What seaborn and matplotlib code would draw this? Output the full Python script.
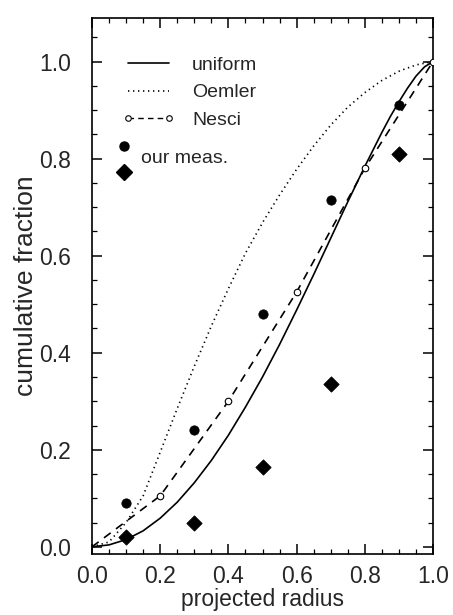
import numpy as np
import pandas as pd
import matplotlib
matplotlib.use("Agg")
import matplotlib.pyplot as plt
from matplotlib.lines import Line2D
from matplotlib.legend_handler import HandlerBase
from matplotlib.ticker import MultipleLocator
import seaborn as sns

# ---- data ----
uni_r = [0.0, 0.05, 0.1, 0.15, 0.2, 0.25, 0.3, 0.35, 0.4, 0.45, 0.5,
         0.55, 0.6, 0.65, 0.7, 0.75, 0.8, 0.85, 0.875, 0.9, 0.925, 0.95, 0.975, 1.0]
uniform = [0.0, 0.004, 0.015, 0.033, 0.059, 0.092, 0.132, 0.178, 0.230, 0.288, 0.350,
           0.417, 0.488, 0.561, 0.636, 0.711, 0.784, 0.854, 0.887, 0.917, 0.945, 0.970, 0.989, 1.0]
oem_r = [0.0, 0.05, 0.1, 0.15, 0.2, 0.25, 0.3, 0.35, 0.4, 0.45, 0.5,
         0.55, 0.6, 0.65, 0.7, 0.75, 0.8, 0.85, 0.9, 0.95, 1.0]
oemler = [0.0, 0.01, 0.05, 0.105, 0.195, 0.285, 0.372, 0.455, 0.532, 0.605, 0.668,
          0.725, 0.778, 0.826, 0.869, 0.906, 0.936, 0.961, 0.980, 0.993, 1.0]
nesci_r = [0.0, 0.2, 0.4, 0.6, 0.8, 1.0]
nesci = [0.0, 0.105, 0.30, 0.525, 0.78, 1.0]
meas_r = [0.1, 0.3, 0.5, 0.7, 0.9]
meas_circ = [0.09, 0.24, 0.48, 0.715, 0.91]
meas_diam = [0.02, 0.05, 0.165, 0.335, 0.81]

sns.set_style("ticks")
plt.rcParams['font.family'] = ['Liberation Sans', 'DejaVu Sans']

fig = plt.figure(figsize=(4.53, 6.15), dpi=100)
ax = fig.add_axes([0.203, 0.099, 0.753, 0.872])

uni = pd.DataFrame({"r": uni_r, "v": uniform})
oem = pd.DataFrame({"r": oem_r, "v": oemler})
nes = pd.DataFrame({"r": nesci_r, "v": nesci})
meas = pd.DataFrame({"r": meas_r, "c": meas_circ, "d": meas_diam})

sns.lineplot(data=uni, x="r", y="v", ax=ax, color="black", lw=1.2,
             linestyle="-", sort=False)
sns.lineplot(data=oem, x="r", y="v", ax=ax, color="black", lw=1.2,
             linestyle=(0, (0.8, 2.2)), sort=False)
sns.lineplot(data=nes, x="r", y="v", ax=ax, color="black", lw=1.2,
             linestyle=(0, (5, 4)), sort=False)
sns.scatterplot(data=nes.iloc[1:], x="r", y="v", ax=ax, marker="o", s=22,
                facecolor="white", edgecolor="black", linewidth=0.8, zorder=4)
sns.scatterplot(data=meas, x="r", y="c", ax=ax, marker="o", s=45,
                color="black", edgecolor="black", zorder=5)
sns.scatterplot(data=meas, x="r", y="d", ax=ax, marker="D", s=60,
                color="black", edgecolor="black", zorder=5)

ax.set_xlim(0, 1.0)
ax.set_ylim(-0.015, 1.09)
ax.xaxis.set_major_locator(MultipleLocator(0.2))
ax.xaxis.set_minor_locator(MultipleLocator(0.05))
ax.yaxis.set_major_locator(MultipleLocator(0.2))
ax.yaxis.set_minor_locator(MultipleLocator(0.05))
ax.set_yticks([0, 0.2, 0.4, 0.6, 0.8, 1.0])
ax.tick_params(which="both", direction="in", top=True, right=True,
               labelsize=16.5, color="black")
ax.tick_params(axis="y", which="major", length=7, width=1.1, pad=15)
ax.tick_params(axis="x", which="major", length=7, width=1.1, pad=8)
ax.tick_params(which="minor", length=3.5, width=0.9)
for s in ax.spines.values():
    s.set_linewidth(1.2)
    s.set_color("black")
ax.set_xlabel("projected radius", fontsize=16.5, labelpad=0)
ax.set_ylabel("cumulative fraction", fontsize=19, labelpad=1)


class StackHandler(HandlerBase):
    def create_artists(self, legend, orig, xdescent, ydescent, width, height,
                       fontsize, trans):
        x = -xdescent
        a1 = Line2D([x], [-ydescent + height * 1.25], marker="o", ms=6.5,
                    color="black", ls="")
        a2 = Line2D([x], [-ydescent - height * 0.7], marker="D", ms=8,
                    color="black", ls="")
        a1.set_transform(trans)
        a2.set_transform(trans)
        return [a1, a2]


h_uni = Line2D([], [], color="black", lw=1.2)
h_oem = Line2D([], [], color="black", lw=1.2, linestyle=(0, (0.8, 2.2)))
h_nes = Line2D([], [], color="black", lw=1.0, linestyle=(0, (4, 3)),
               marker="o", ms=4, mfc="white", mec="black", mew=0.8)
leg1 = ax.legend([h_uni, h_oem, h_nes], ["uniform", "Oemler", "Nesci"],
                 loc="upper left", bbox_to_anchor=(0.06, 0.946), frameon=False,
                 fontsize=14, numpoints=2, handlelength=2.7,
                 handletextpad=0.9, labelspacing=0.5, borderpad=0)
ax.add_artist(leg1)
h_meas = (Line2D([], []), Line2D([], []))
leg2 = ax.legend([h_meas], ["our meas."],
                 handler_map={tuple: StackHandler()},
                 loc="upper left", bbox_to_anchor=(0.065, 0.773), frameon=False,
                 fontsize=14, handlelength=0.3, handletextpad=0.6, borderpad=0)

fig.savefig("out.png", dpi=100)
